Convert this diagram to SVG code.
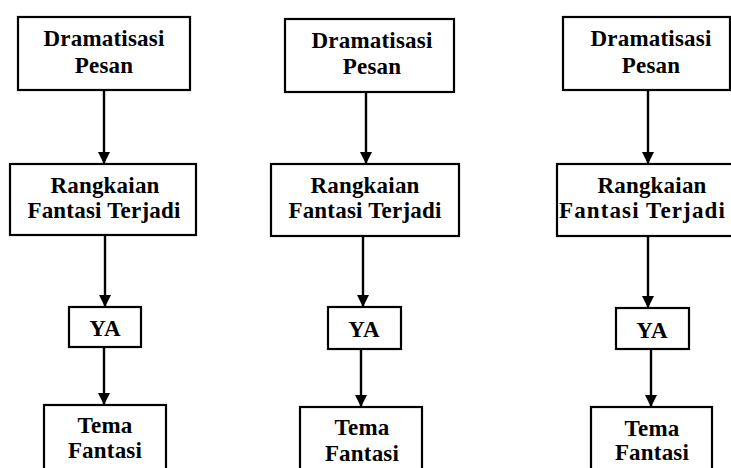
<svg xmlns="http://www.w3.org/2000/svg" width="731" height="468" viewBox="0 0 731 468">
<style>
.box{fill:#fff;stroke:#000;stroke-width:2.2}
.t{font-family:"Liberation Serif","Times New Roman",serif;font-weight:bold;font-size:23px;fill:#000;text-anchor:middle;letter-spacing:0.2px}
.c{stroke:#000;stroke-width:2.4;fill:none;marker-end:url(#ah)}
</style>
<defs>
<marker id="ah" markerUnits="userSpaceOnUse" viewBox="0 0 12 12" markerWidth="12" markerHeight="12" refX="12" refY="6" orient="auto">
<path d="M0,0 L12,6 L0,12 z" fill="#000"/>
</marker>
</defs>
<rect width="731" height="468" fill="#fff"/>
<g id="connectors">
<line class="c" x1="104" y1="90" x2="104" y2="164"/>
<line class="c" x1="105" y1="235" x2="105" y2="307"/>
<line class="c" x1="104" y1="347" x2="104" y2="405"/>
<line class="c" x1="366" y1="92" x2="366" y2="164"/>
<line class="c" x1="363" y1="236" x2="363" y2="307"/>
<line class="c" x1="361" y1="349" x2="361" y2="407"/>
<line class="c" x1="648" y1="90" x2="648" y2="164"/>
<line class="c" x1="648" y1="236" x2="648" y2="308"/>
<line class="c" x1="651" y1="349" x2="651" y2="407"/>
</g>
<g id="n1a"><rect class="box" x="18" y="17" width="172" height="73"/><text class="t" x="104" y="46">Dramatisasi</text><text class="t" x="104" y="73">Pesan</text></g>
<g id="n1b"><rect class="box" x="10" y="164" width="186" height="71"/><text class="t" x="105" y="193">Rangkaian</text><text class="t" x="104" y="218">Fantasi Terjadi</text></g>
<g id="n1c"><rect class="box" x="69" y="307" width="72" height="40"/><text class="t" x="105" y="336">YA</text></g>
<g id="n1d"><rect class="box" x="44" y="405" width="122" height="70"/><text class="t" x="105" y="433">Tema</text><text class="t" x="105" y="458">Fantasi</text></g>
<g id="n2a"><rect class="box" x="285" y="19" width="169" height="73"/><text class="t" x="372" y="48">Dramatisasi</text><text class="t" x="372" y="74">Pesan</text></g>
<g id="n2b"><rect class="box" x="271" y="164" width="188" height="72"/><text class="t" x="365" y="193">Rangkaian</text><text class="t" x="365" y="218">Fantasi Terjadi</text></g>
<g id="n2c"><rect class="box" x="328" y="307" width="73" height="42"/><text class="t" x="364" y="337">YA</text></g>
<g id="n2d"><rect class="box" x="300" y="407" width="122" height="70"/><text class="t" x="362" y="435">Tema</text><text class="t" x="362" y="461">Fantasi</text></g>
<g id="n3a"><rect class="box" x="563" y="17" width="167" height="73"/><text class="t" x="651" y="46">Dramatisasi</text><text class="t" x="651" y="73">Pesan</text></g>
<g id="n3b"><rect class="box" x="557" y="164" width="180" height="72"/><text class="t" x="652" y="193">Rangkaian</text><text class="t" x="642" y="218" textLength="166" lengthAdjust="spacing">Fantasi Terjadi</text></g>
<g id="n3c"><rect class="box" x="616" y="308" width="73" height="41"/><text class="t" x="652" y="338">YA</text></g>
<g id="n3d"><rect class="box" x="591" y="407" width="121" height="70"/><text class="t" x="652" y="436">Tema</text><text class="t" x="652" y="460">Fantasi</text></g>
</svg>
